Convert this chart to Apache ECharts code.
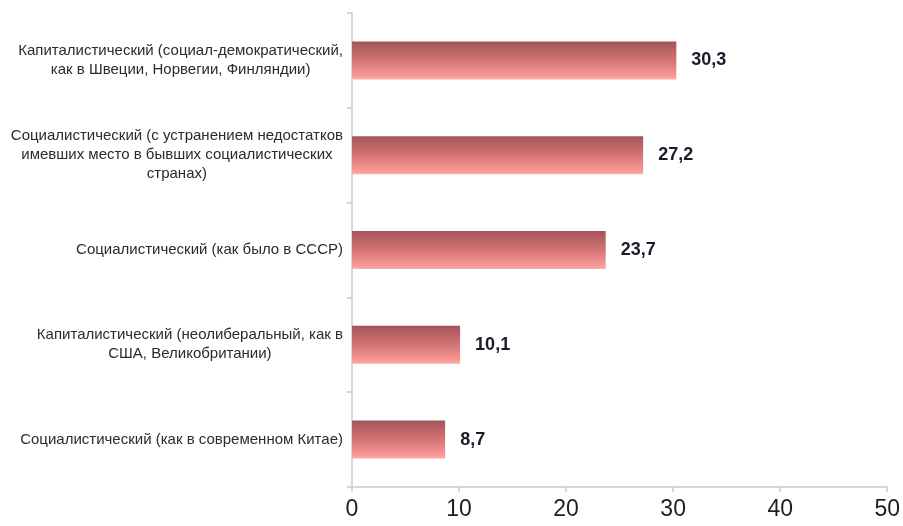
<!DOCTYPE html>
<html>
<head>
<meta charset="utf-8">
<script src="https://cdn.jsdelivr.net/npm/echarts@6/dist/echarts.min.js"></script>
<style>html,body{margin:0;padding:0;background:#fff;}#c{width:903px;height:526px;}</style>
</head>
<body>
<div id="c"></div>
<script>
var categories = [
  "Капиталистический (социал-демократический,\nкак в Швеции, Норвегии, Финляндии)",
  "Социалистический (с устранением недостатков\nимевших место в бывших социалистических\nстранах)",
  "Социалистический (как было в СССР)",
  "Капиталистический (неолиберальный, как в\nСША, Великобритании)",
  "Социалистический (как в современном Китае)"
];
var values = [30.3, 27.2, 23.7, 10.1, 8.7];
var xTicks = { min: 0, max: 50, interval: 10 };

var chart = echarts.init(document.getElementById('c'));
chart.setOption({
  animation: false,
  backgroundColor: '#ffffff',
  grid: { left: 352, right: 15, top: 13, bottom: 39, containLabel: false },
  xAxis: {
    type: 'value', min: xTicks.min, max: xTicks.max, interval: xTicks.interval,
    axisLine: { show: true, lineStyle: { color: '#c6cad2', width: 1.5 } },
    axisTick: { show: true, length: 5, lineStyle: { color: '#c6cad2', width: 1.5 } },
    splitLine: { show: false },
    axisLabel: { fontFamily: 'Liberation Sans, Arial, sans-serif', fontSize: 23, color: '#1e1e1e', margin: 11 }
  },
  yAxis: {
    type: 'category', data: categories, inverse: true,
    axisLine: { show: true, lineStyle: { color: '#c6cad2', width: 1.5 } },
    axisTick: { show: true, length: 5, lineStyle: { color: '#c6cad2', width: 1.5 } },
    axisLabel: {
      margin: 9,
      fontFamily: 'Liberation Sans, Arial, sans-serif', fontSize: 15, color: '#2b2b2b',
      lineHeight: 19,
      formatter: function (v) {
        return v.split('\n').map(function (l) { return '{c|' + l + '}'; }).join('\n');
      },
      rich: { c: { align: 'center', fontFamily: 'Liberation Sans, Arial, sans-serif', fontSize: 15, color: '#2b2b2b', lineHeight: 19 } }
    }
  },
  series: [{
    type: 'bar',
    data: values,
    barWidth: 38,
    itemStyle: {
      color: new echarts.graphic.LinearGradient(0, 0, 0, 1, [
        { offset: 0, color: '#a2545a' },
        { offset: 0.5, color: '#d47474' },
        { offset: 0.92, color: '#f99a98' },
        { offset: 1, color: '#fbb0ae' }
      ])
    },
    label: {
      show: true, position: 'right', distance: 15,
      fontFamily: 'Liberation Sans, Arial, sans-serif', fontSize: 18, fontWeight: 'bold', color: '#1b1b2b',
      formatter: function (p) { return String(p.value).replace('.', ','); }
    }
  }]
});
</script>
</body>
</html>
